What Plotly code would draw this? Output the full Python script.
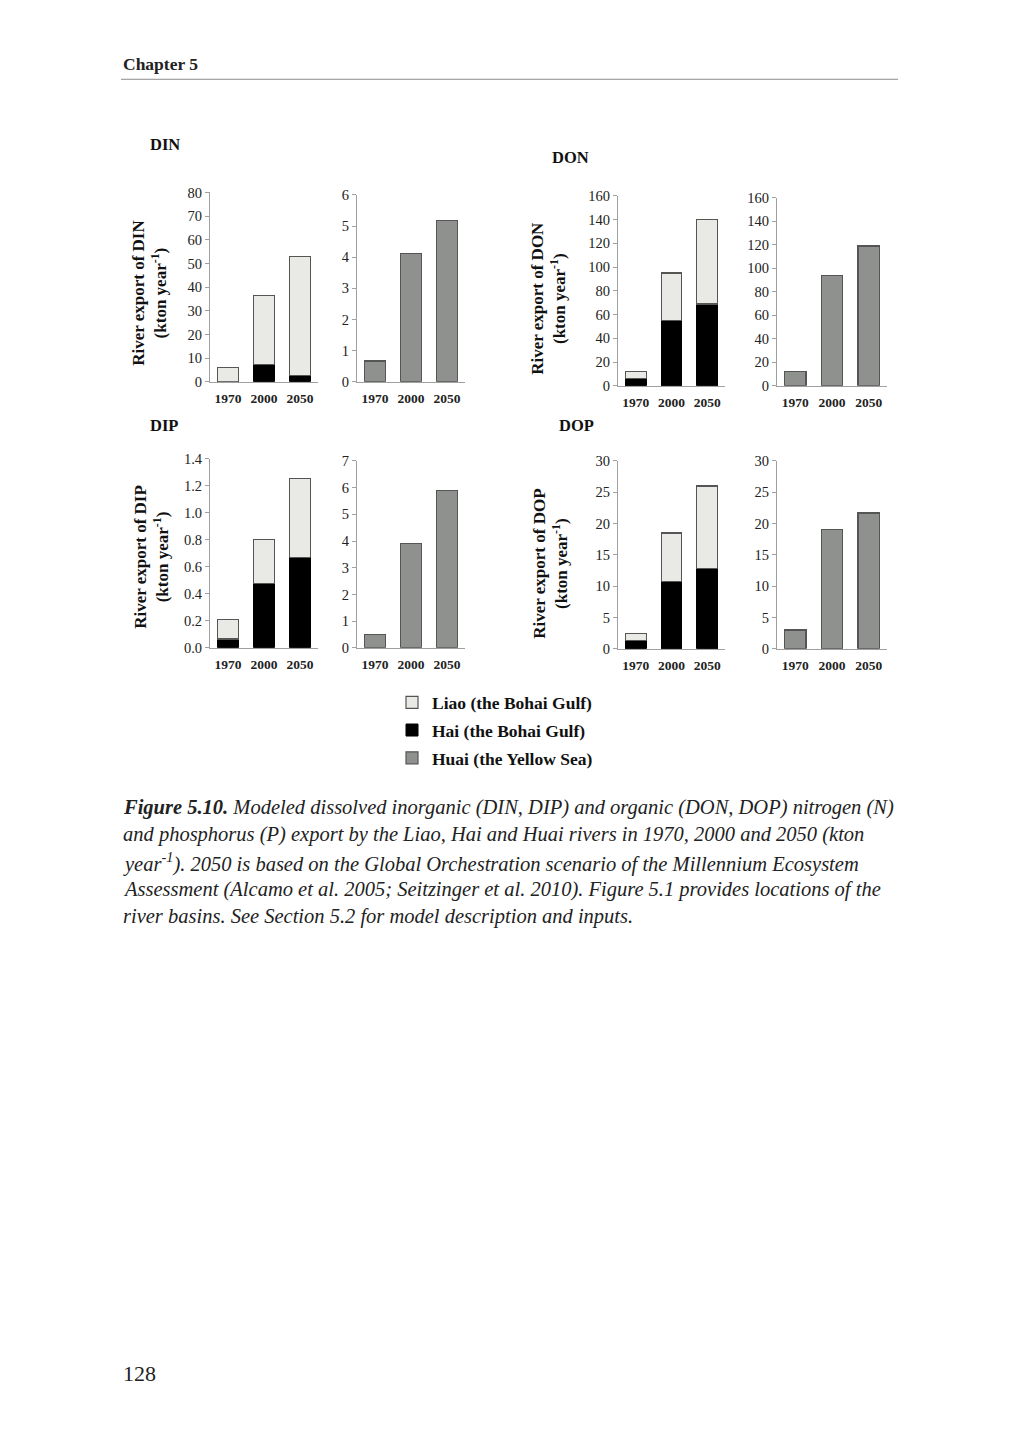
import plotly.graph_objects as go

PAGE_W, PAGE_H = 1018, 1440
BODY = 8  # default html body margin around the figure
W, H = PAGE_W - 2 * BODY, PAGE_H - 2 * BODY

years = ["1970", "2000", "2050"]

din_hai = [0.1, 7.3, 2.8]
din_liao = [6.1, 29.2, 50.3]
din_huai = [0.67, 4.13, 5.18]

don_hai = [6, 55, 69]
don_liao = [6, 40, 71]
don_huai = [12.5, 94, 119]

dip_hai = [0.065, 0.475, 0.67]
dip_liao = [0.145, 0.33, 0.585]
dip_huai = [0.5, 3.9, 5.9]

dop_hai = [1.3, 10.7, 12.8]
dop_liao = [1.2, 7.8, 13.2]
dop_huai = [3.0, 19.1, 21.7]

left_ranges = {"DIN": 80, "DON": 160, "DIP": 1.4, "DOP": 30}
right_ranges = {"DIN": 6, "DON": 160, "DIP": 7, "DOP": 30}
left_dtick = {"DIN": 10, "DON": 20, "DIP": 0.2, "DOP": 5}
right_dtick = {"DIN": 1, "DON": 20, "DIP": 1, "DOP": 5}

C_LIAO = "#e9eae6"
C_HAI = "#000000"
C_HUAI = "#8f918e"
C_EDGE = "#555555"

SERIF = "Liberation Serif"


def px(x):
    return (x - BODY) / W


def py(y):
    return 1 - (y - BODY) / H


# panel geometry in page pixels: (x0, x1, ytop, ybottom)
panels = [
    ("DIN", "L", (210, 318, 186.5, 378)),
    ("DIN", "R", (357, 465, 189, 378)),
    ("DON", "L", (618, 725, 190, 382)),
    ("DON", "R", (777, 887, 192, 382)),
    ("DIP", "L", (210, 318, 456, 647)),
    ("DIP", "R", (357, 465, 458, 647)),
    ("DOP", "L", (618, 725, 458, 648)),
    ("DOP", "R", (777, 887, 458, 648)),
]

data = {
    "DIN": (din_hai, din_liao, din_huai),
    "DON": (don_hai, don_liao, don_huai),
    "DIP": (dip_hai, dip_liao, dip_huai),
    "DOP": (dop_hai, dop_liao, dop_huai),
}

fig = go.Figure()
layout = {}
legend_done = {"hai": False, "liao": False, "huai": False}

for i, (name, side, (x0, x1, yt, yb)) in enumerate(panels, start=1):
    xa = "x" if i == 1 else f"x{i}"
    ya = "y" if i == 1 else f"y{i}"
    hai, liao, huai = data[name]
    if side == "L":
        fig.add_trace(go.Bar(
            x=years, y=hai, xaxis=xa, yaxis=ya, name="Hai (the Bohai Gulf)",
            marker=dict(color=C_HAI, line=dict(color="#000000", width=1)),
            legendgroup="b", legendrank=2, showlegend=not legend_done["hai"]))
        legend_done["hai"] = True
        fig.add_trace(go.Bar(
            x=years, y=liao, xaxis=xa, yaxis=ya, name="Liao (the Bohai Gulf)",
            marker=dict(color=C_LIAO, line=dict(color=C_EDGE, width=1.2)),
            legendgroup="a", legendrank=1, showlegend=not legend_done["liao"]))
        legend_done["liao"] = True
        rmax = left_ranges[name]
        dt = left_dtick[name]
    else:
        fig.add_trace(go.Bar(
            x=years, y=huai, xaxis=xa, yaxis=ya, name="Huai (the Yellow Sea)",
            marker=dict(color=C_HUAI, line=dict(color=C_EDGE, width=1.2)),
            legendgroup="c", legendrank=3, showlegend=not legend_done["huai"]))
        legend_done["huai"] = True
        rmax = right_ranges[name]
        dt = right_dtick[name]

    xkey = "xaxis" if i == 1 else f"xaxis{i}"
    ykey = "yaxis" if i == 1 else f"yaxis{i}"
    layout[xkey] = dict(
        domain=[px(x0), px(x1)], anchor=ya, type="category",
        showline=True, linecolor="#a0a0a0", linewidth=1, ticks="",
        showgrid=False, zeroline=False, ticklabelstandoff=4,
        tickfont=dict(family=SERIF, size=13.5, color="#222", weight="bold"),
        fixedrange=True,
    )
    layout[ykey] = dict(
        domain=[py(yb), py(yt)], anchor=xa, range=[0, rmax], dtick=dt,
        tick0=0, showline=True, linecolor="#a0a0a0", linewidth=1,
        ticks="outside", ticklen=4, tickcolor="#a0a0a0",
        showgrid=False, zeroline=False,
        tickfont=dict(family=SERIF, size=14.5, color="#222"),
        tickformat=".1f" if name == "DIP" and side == "L" else None,
    )

annotations = []

# panel titles
for txt, x, y in [("DIN", 148, 138), ("DON", 550, 151), ("DIP", 148, 422), ("DOP", 557, 422)]:
    annotations.append(dict(
        text=f"<b>{txt}</b>", x=px(x), y=py(y), xref="paper", yref="paper",
        xanchor="left", yanchor="middle", showarrow=False,
        font=dict(family=SERIF, size=16.5, color="#111")))

# y-axis titles
for txt, x, y in [("DIN", 150, 288), ("DON", 549, 294), ("DIP", 152, 555), ("DOP", 551, 562)]:
    annotations.append(dict(
        text=f"<b>River export of {txt}<br>(kton year<sup>-1</sup>)</b>",
        x=px(x), y=py(y), xref="paper", yref="paper", textangle=-90,
        xanchor="center", yanchor="middle", showarrow=False, align="center",
        font=dict(family=SERIF, size=17, color="#111")))

# header
annotations.append(dict(
    text="<b>Chapter 5</b>", x=px(121), y=py(57), xref="paper", yref="paper",
    xanchor="left", yanchor="middle", showarrow=False,
    font=dict(family=SERIF, size=17.5, color="#222")))

# caption lines
caption = [
    "<b>Figure 5.10.</b> Modeled dissolved inorganic (DIN, DIP) and organic (DON, DOP) nitrogen (N)",
    "and phosphorus (P) export by the Liao, Hai and Huai rivers in 1970, 2000 and 2050 (kton",
    "year<sup>-1</sup>). 2050 is based on the Global Orchestration scenario of the Millennium Ecosystem",
    "Assessment (Alcamo et al. 2005; Seitzinger et al. 2010). Figure 5.1 provides locations of the",
    "river basins. See Section 5.2 for model description and inputs.",
]
cap_y = [808, 836, 864, 891, 919]
for line, y in zip(caption, cap_y):
    annotations.append(dict(
        text=f"<i>{line}</i>", x=px(121), y=py(y), xref="paper", yref="paper",
        xanchor="left", yanchor="middle", showarrow=False,
        font=dict(family=SERIF, size=20.5, color="#222")))

# page number
annotations.append(dict(
    text="128", x=px(121), y=py(1381), xref="paper", yref="paper",
    xanchor="left", yanchor="middle", showarrow=False,
    font=dict(family=SERIF, size=22, color="#222")))

shapes = [dict(type="line", xref="paper", yref="paper",
               x0=px(121), x1=px(898), y0=py(72), y1=py(72),
               line=dict(color="#8a8a8a", width=1))]

fig.update_layout(
    width=W, height=H, margin=dict(l=0, r=0, t=0, b=0),
    paper_bgcolor="white", plot_bgcolor="white",
    barmode="stack", bargap=0.42,
    showlegend=True,
    legend=dict(
        x=px(392), y=py(684), xanchor="left", yanchor="top",
        traceorder="grouped", tracegroupgap=2,
        font=dict(family=SERIF, size=17.5, color="#111", weight="bold"),
        bgcolor="rgba(0,0,0,0)", itemclick=False, itemdoubleclick=False,
    ),
    annotations=annotations, shapes=shapes,
    **layout,
)

fig.write_html("out.html")
